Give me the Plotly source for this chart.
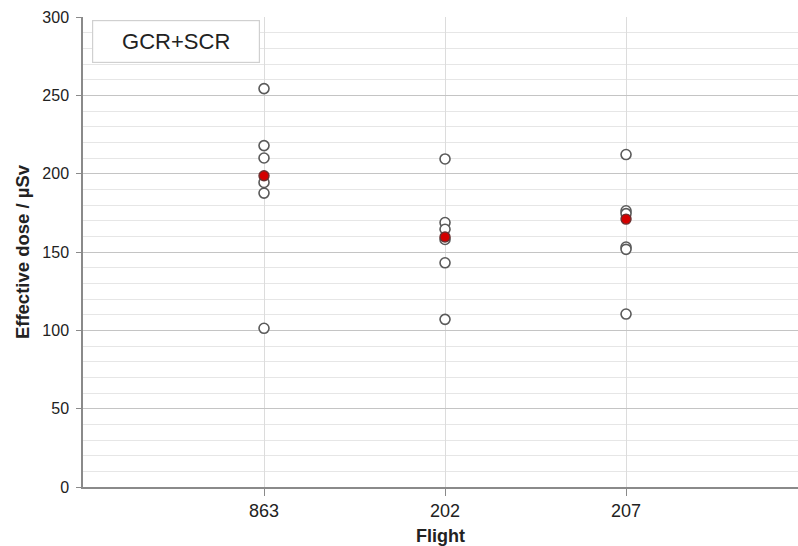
import plotly.graph_objects as go

# Flights and individual effective-dose estimates (µSv)
flights = ["863", "202", "207"]
doses_863 = [254.3, 217.9, 210.0, 194.4, 187.6, 101.3]
doses_202 = [209.4, 168.8, 164.5, 158.0, 143.1, 107.0]
doses_207 = [212.2, 176.3, 174.5, 153.2, 151.7, 110.4]
# Highlighted reference value per flight
reference_dose = [198.7, 159.6, 171.0]

all_doses = [doses_863, doses_202, doses_207]

fig = go.Figure()

xs, ys = [], []
for i, vals in enumerate(all_doses):
    xs += [i + 1] * len(vals)
    ys += vals

fig.add_trace(go.Scatter(
    x=xs, y=ys, mode="markers",
    marker=dict(symbol="circle", size=10, color="white",
                line=dict(color="#5a5a5a", width=1.6)),
    showlegend=False, hoverinfo="y",
))
fig.add_trace(go.Scatter(
    x=[1, 2, 3], y=reference_dose, mode="markers",
    marker=dict(symbol="circle", size=10, color="#d40000",
                line=dict(color="#6a3030", width=1.4)),
    showlegend=False, hoverinfo="y",
))

fig.update_layout(
    width=798, height=546,
    margin=dict(l=83, r=0, t=17, b=59),
    paper_bgcolor="white", plot_bgcolor="white",
    font=dict(family="Liberation Sans, Arial, sans-serif", color="#222222"),
    xaxis=dict(
        range=[0, 3.95], tickmode="array", tickvals=[1, 2, 3], ticktext=flights,
        showgrid=True, gridcolor="#dcdcdc", gridwidth=1,
        zeroline=False, showline=True, linecolor="#8a8a8a", linewidth=1.5,
        ticks="outside", ticklen=7, tickcolor="#8a8a8a",
        tickfont=dict(size=18), ticklabelstandoff=0, fixedrange=True,
        title=dict(text="<b>Flight</b>", font=dict(size=18), standoff=9),
    ),
    yaxis=dict(
        range=[0, 300], tickmode="linear", dtick=50,
        showgrid=True, gridcolor="#c4c4c4", gridwidth=1.2,
        minor=dict(dtick=10, showgrid=True, gridcolor="#e6e6e6", gridwidth=1),
        zeroline=False, showline=True, linecolor="#8a8a8a", linewidth=1.5,
        ticks="outside", ticklen=5, tickcolor="#8a8a8a",
        tickfont=dict(size=16), ticklabelstandoff=4,
        title=dict(text="<b>Effective dose / µSv</b>", font=dict(size=18.5), standoff=8),
    ),
)

fig.add_annotation(
    xref="paper", yref="paper", x=0.0126, y=0.9936, xanchor="left", yanchor="top",
    text="GCR+SCR", showarrow=False, font=dict(size=22, color="#222222"),
    bgcolor="white", bordercolor="#d0d0d0", borderwidth=1.2,
    borderpad=10, width=146, height=21,
)

fig.write_html("out.html")
